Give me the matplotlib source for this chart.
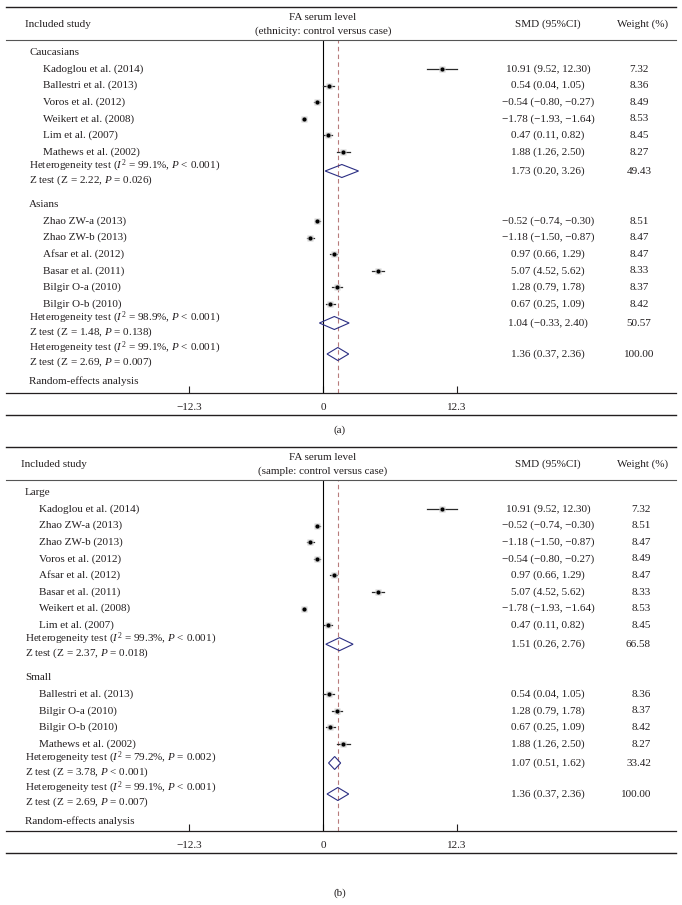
import matplotlib
matplotlib.use('Agg')
import matplotlib.pyplot as plt
from matplotlib import transforms
from matplotlib.lines import Line2D
from matplotlib.patches import Polygon

plt.rcParams['font.family'] = 'Liberation Serif'
plt.rcParams['mathtext.fontset'] = 'custom'
plt.rcParams['mathtext.rm'] = 'Liberation Serif'
plt.rcParams['mathtext.it'] = 'Liberation Serif:italic'
plt.rcParams['font.size'] = 8.0

W, H = 682, 905
TXT = '#231f20'

# ---- panel (a): ethnicity subgroups ----
cau_names = ['Kadoglou et al. (2014)', 'Ballestri et al. (2013)', 'Voros et al. (2012)',
             'Weikert et al. (2008)', 'Lim et al. (2007)', 'Mathews et al. (2002)']
cau_smd = [10.91, 0.54, -0.54, -1.78, 0.47, 1.88]
cau_lo = [9.52, 0.04, -0.80, -1.93, 0.11, 1.26]
cau_hi = [12.30, 1.05, -0.27, -1.64, 0.82, 2.50]
cau_w = [7.32, 8.36, 8.49, 8.53, 8.45, 8.27]

asi_names = ['Zhao ZW-a (2013)', 'Zhao ZW-b (2013)', 'Afsar et al. (2012)',
             'Basar et al. (2011)', 'Bilgir O-a (2010)', 'Bilgir O-b (2010)']
asi_smd = [-0.52, -1.18, 0.97, 5.07, 1.28, 0.67]
asi_lo = [-0.74, -1.50, 0.66, 4.52, 0.79, 0.25]
asi_hi = [-0.30, -0.87, 1.29, 5.62, 1.78, 1.09]
asi_w = [8.51, 8.47, 8.47, 8.33, 8.37, 8.42]

# subtotals for (a): Caucasians, Asians
sub_a_smd = [1.73, 1.04]
sub_a_lo = [0.20, -0.33]
sub_a_hi = [3.26, 2.40]
sub_a_w = [49.43, 50.57]
sub_a_i2 = ['99.1', '98.9']
sub_a_phet = ['< 0.001', '< 0.001']
sub_a_z = ['2.22', '1.48']
sub_a_pz = ['= 0.026', '= 0.138']

# ---- panel (b): sample size subgroups ----
large_names = ['Kadoglou et al. (2014)', 'Zhao ZW-a (2013)', 'Zhao ZW-b (2013)',
               'Voros et al. (2012)', 'Afsar et al. (2012)', 'Basar et al. (2011)',
               'Weikert et al. (2008)', 'Lim et al. (2007)']
large_smd = [10.91, -0.52, -1.18, -0.54, 0.97, 5.07, -1.78, 0.47]
large_lo = [9.52, -0.74, -1.50, -0.80, 0.66, 4.52, -1.93, 0.11]
large_hi = [12.30, -0.30, -0.87, -0.27, 1.29, 5.62, -1.64, 0.82]
large_w = [7.32, 8.51, 8.47, 8.49, 8.47, 8.33, 8.53, 8.45]

small_names = ['Ballestri et al. (2013)', 'Bilgir O-a (2010)', 'Bilgir O-b (2010)',
               'Mathews et al. (2002)']
small_smd = [0.54, 1.28, 0.67, 1.88]
small_lo = [0.04, 0.79, 0.25, 1.26]
small_hi = [1.05, 1.78, 1.09, 2.50]
small_w = [8.36, 8.37, 8.42, 8.27]

sub_b_smd = [1.51, 1.07]
sub_b_lo = [0.26, 0.51]
sub_b_hi = [2.76, 1.62]
sub_b_w = [66.58, 33.42]
sub_b_i2 = ['99.3', '79.2']
sub_b_phet = ['< 0.001', '= 0.002']
sub_b_z = ['2.37', '3.78']
sub_b_pz = ['= 0.018', '< 0.001']

# overall random-effects
all_smd, all_lo, all_hi, all_w = 1.36, 0.37, 2.36, 100.00
all_i2, all_phet, all_z, all_pz = '99.1', '< 0.001', '2.69', '= 0.007'

ticks = [-12.3, 0, 12.3]
tick_labels = ['\u221212.3', '0', '12.3']


def fmt(v):
    return f'{v:.2f}'.replace('-', '\u2212')


def ci_text(e, l, h):
    return f'{fmt(e)} ({fmt(l)}, {fmt(h)})'


fig = plt.figure(figsize=(W / 100, H / 100), dpi=100)
# pixel transform, y measured from the top
px = transforms.Affine2D().scale(1 / W, -1 / H).translate(0, 1) + fig.transFigure
px_x = transforms.Affine2D().scale(1 / W, 1) + fig.transFigure

ZERO_PX = 323
PPU = 134 / 12.3
LEFT_PX, RIGHT_PX = 6, 676


def hline(y, lw=1.0, color='#231f20'):
    fig.add_artist(Line2D([LEFT_PX, RIGHT_PX], [y, y], transform=px, color=color, lw=lw))


def draw_panel(top, head, axis_y, title2, groups, subs, xin, wcol, tag, tag_y):
    hline(top, 1.0)
    hline(head, 0.8, '#555555')
    hline(axis_y + 22, 1.0)
    hc = (top + head) / 2 + 1
    fig.text(xin[0], hc, 'Included study', transform=px, va='center', color=TXT)
    fig.text(ZERO_PX, hc - 7, 'FA serum level', transform=px, ha='center', va='center', color=TXT)
    fig.text(ZERO_PX, hc + 7, title2, transform=px, ha='center', va='center', color=TXT)
    fig.text(548, hc, 'SMD (95%CI)', transform=px, ha='center', va='center', color=TXT)
    fig.text(643, hc, 'Weight (%)', transform=px, ha='center', va='center', color=TXT)
    fig.text(340, tag_y, tag, transform=px, ha='center', va='center', color=TXT)

    ax = fig.add_axes([LEFT_PX / W, 1 - axis_y / H, (RIGHT_PX - LEFT_PX) / W, (axis_y - head) / H])
    ax.set_xlim((LEFT_PX - ZERO_PX) / PPU, (RIGHT_PX - ZERO_PX) / PPU)
    ax.set_ylim(axis_y - head, 0)
    ax.patch.set_alpha(0)
    for s in ['left', 'right', 'top']:
        ax.spines[s].set_visible(False)
    ax.spines['bottom'].set_linewidth(0.9)
    ax.spines['bottom'].set_color('#231f20')
    ax.set_yticks([])
    ax.set_xticks(ticks)
    ax.set_xticklabels(tick_labels)
    ax.tick_params(axis='x', direction='in', length=5, width=0.8, pad=7, labelsize=8.0,
                   colors='#231f20')

    tr = transforms.blended_transform_factory(px_x, ax.transData)

    def put(x, y, s, ha='left'):
        ax.text(x, y, s, transform=tr, ha=ha, va='center', color=TXT)

    def weight(y, w):
        put(wcol[0], y, f'{w:.2f}', wcol[1])

    def diamond(y, e, l, h):
        ax.add_patch(Polygon([(l, y), (e, y - 6.5), (h, y), (e, y + 6.5)], closed=True,
                             fill=False, ec='#2b2e83', lw=0.8, zorder=4))

    y = 12
    for gi, (label, names, smd, lo, hi, wt) in enumerate(groups):
        if gi > 0:
            y += 24
        put(xin[1], y, label)
        y += 17 - 16.6
        for n, e, l, h, w in zip(names, smd, lo, hi, wt):
            y += 16.6
            put(xin[2], y, n)
            ax.plot([l, h], [y, y], color='#2a2a2a', lw=0.9, zorder=3)
            ax.plot(e, y, marker='s', ms=5, color='#d2d2d2', mec='none', zorder=3)
            ax.plot(e, y, marker='o', ms=3, color='black', mec='none', zorder=4)
            put(548, y, ci_text(e, l, h), 'center')
            weight(y, w)
        y += 14
        put(xin[1], y, f'Heterogeneity test ($I^2$ = {subs[4][gi]}%, $P$ {subs[5][gi]})')
        yd = y + 5
        diamond(yd, subs[0][gi], subs[1][gi], subs[2][gi])
        put(548, yd, ci_text(subs[0][gi], subs[1][gi], subs[2][gi]), 'center')
        weight(yd, subs[3][gi])
        y += 14
        put(xin[1], y, f'Z test (Z = {subs[6][gi]}, $P$ {subs[7][gi]})')

    y += 16
    put(xin[1], y, f'Heterogeneity test ($I^2$ = {all_i2}%, $P$ {all_phet})')
    yd = y + 6
    diamond(yd, all_smd, all_lo, all_hi)
    put(548, yd, ci_text(all_smd, all_lo, all_hi), 'center')
    weight(yd, all_w)
    y += 14
    put(xin[1], y, f'Z test (Z = {all_z}, $P$ {all_pz})')
    y += 19
    put(xin[1], y, 'Random-effects analysis')

    ax.axvline(0, color='black', lw=0.8, zorder=2)
    ax.axvline(all_smd, color='#b87c7c', lw=0.8, ls=(0, (4, 3)), zorder=2)


draw_panel(7, 40, 393, '(ethnicity: control versus case)',
           [('Caucasians', cau_names, cau_smd, cau_lo, cau_hi, cau_w),
            ('Asians', asi_names, asi_smd, asi_lo, asi_hi, asi_w)],
           [sub_a_smd, sub_a_lo, sub_a_hi, sub_a_w, sub_a_i2, sub_a_phet, sub_a_z, sub_a_pz],
           (25, 29, 43), (639, 'center'), '(a)', 430)

draw_panel(447, 480, 831, '(sample: control versus case)',
           [('Large', large_names, large_smd, large_lo, large_hi, large_w),
            ('Small', small_names, small_smd, small_lo, small_hi, small_w)],
           [sub_b_smd, sub_b_lo, sub_b_hi, sub_b_w, sub_b_i2, sub_b_phet, sub_b_z, sub_b_pz],
           (21, 25, 39), (651, 'right'), '(b)', 893)

fig.savefig('out.png', dpi=100)
